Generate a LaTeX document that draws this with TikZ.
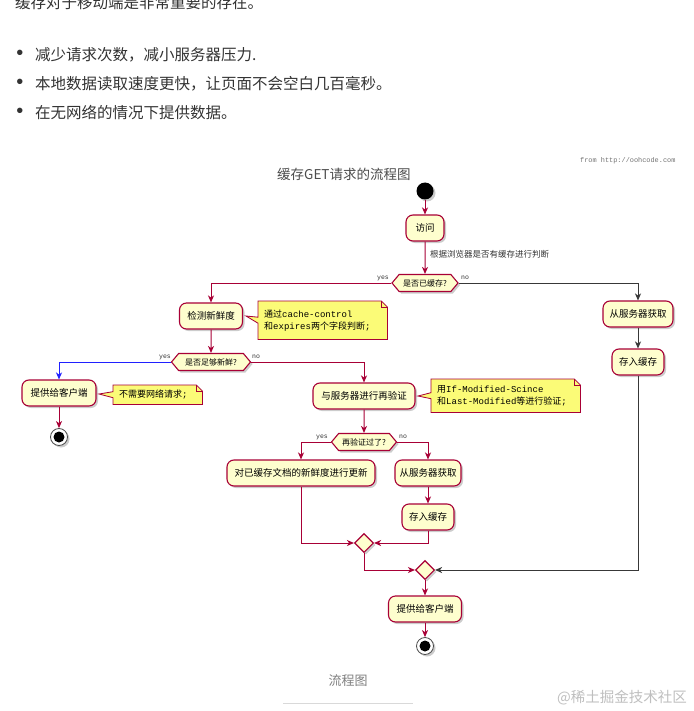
\documentclass[tikz,border=0pt]{standalone}
\usepackage{fontspec}
\setmainfont{Noto Sans CJK SC}
\setmonofont{Liberation Mono}
\newfontfamily\bulfont{Liberation Sans}
\usetikzlibrary{shapes.geometric,shapes.symbols,arrows.meta,shadows,calc}
\definecolor{umlred}{HTML}{A80036}
\definecolor{umlfill}{HTML}{FEFECE}
\definecolor{notefill}{HTML}{FBFB77}
\definecolor{darkline}{HTML}{383838}
\definecolor{bodytext}{HTML}{333333}
\definecolor{flowblue}{HTML}{2020FF}
\pgfdeclarelayer{bg}
\pgfdeclarelayer{paper}
\pgfsetlayers{paper,bg,main}
\newcommand{\umlnote}[2]{%
  \begin{pgfonlayer}{bg}
  \fill[black,opacity=0.18,xshift=2pt,yshift=-2pt]
    (#1.north west) -- ([xshift=-6pt]#1.north east) -- ([yshift=-6pt]#1.north east) -- (#1.south east) -- (#1.south west) -- ([yshift=-3pt]#1.west) -- (#2) -- ([yshift=3pt]#1.west) -- cycle;
  \filldraw[fill=notefill,draw=umlred,line width=0.8pt]
    (#1.north west) -- ([xshift=-6pt]#1.north east) -- ([yshift=-6pt]#1.north east) -- (#1.south east) -- (#1.south west) -- ([yshift=-3pt]#1.west) -- (#2) -- ([yshift=3pt]#1.west) -- cycle;
  \draw[umlred,line width=0.8pt] ([xshift=-6pt]#1.north east) -- ([xshift=-6pt,yshift=-6pt]#1.north east) -- ([yshift=-6pt]#1.north east);
  \end{pgfonlayer}%
}
\tikzset{
  umlshadow/.style={drop shadow={shadow xshift=2pt,shadow yshift=-2pt,opacity=0.2,fill=black}},
  act/.style={draw=umlred, line width=1.1pt, fill=umlfill, rounded corners=7pt,
    minimum height=26pt, inner xsep=4pt, inner ysep=0pt, text=black,
    font=\fontsize{9.5}{11}\selectfont, umlshadow},
  decision/.style={draw=umlred, line width=1.1pt, fill=umlfill, shape=signal,
    signal to=east and west, signal pointer angle=100, minimum height=17pt,
    inner xsep=1pt, inner ysep=0pt, text=black, font=\fontsize{8}{9}\selectfont, umlshadow},
  merge/.style={diamond, draw=umlred, line width=1.1pt, fill=umlfill, minimum size=19pt,
    inner sep=0pt, umlshadow},
  startc/.style={circle, fill=black, minimum size=17pt, inner sep=0pt, umlshadow},
  endc/.style={circle, fill=white, draw=black!70, line width=0.8pt, minimum size=17pt, inner sep=0pt, umlshadow},
  flow/.style={draw=umlred, line width=1pt, -{Stealth[length=7pt,width=6pt,inset=2pt]}},
  flowdark/.style={flow, draw=darkline, -{Stealth[length=7pt,width=6pt,inset=2pt]}},
  flowblue/.style={flow, draw=flowblue},
  notebody/.style={anchor=north west, inner xsep=6pt, inner ysep=3pt, align=left,
    font=\fontsize{9}{12}\selectfont, text=black},
  elabel/.style={font=\fontsize{6.5}{7}\ttfamily, text=black!80, inner sep=0pt},
  toptext/.style={anchor=west, inner sep=0pt, text=bodytext, font=\fontsize{15.5}{18}\selectfont},
  bul/.style={inner sep=0pt, text=bodytext, font=\bulfont\fontsize{20}{20}\selectfont}
}
\begin{document}
\begin{tikzpicture}[x=1pt,y=-1pt]
\useasboundingbox (0,0) rectangle (693,711);
\begin{pgfonlayer}{paper}
\fill[white] (0,0) rectangle (693,711);
\end{pgfonlayer}

% top text
\node[toptext] (l0) at (15,3) {缓存对于移动端是非常重要的存在。};
\node[bul] (b1) at (20,55) {•};
\node[toptext] (l1) at (35,55) {减少请求次数，减小服务器压力.};
\node[bul] (b2) at (20,84) {•};
\node[toptext] (l2) at (35,84) {本地数据读取速度更快，让页面不会空白几百毫秒。};
\node[bul] (b3) at (20,113) {•};
\node[toptext] (l3) at (35,113) {在无网络的情况下提供数据。};

% diagram header
\node[anchor=west, inner sep=0pt, text=black!55, font=\fontsize{6.9}{8}\ttfamily] (from) at (580,161) {from http://oohcode.com};
\node[anchor=west, inner sep=0pt, text=black!70, font=\fontsize{13.5}{15}\selectfont] (title) at (277,174) {缓存GET请求的流程图};

% nodes
\node[startc] (start) at (425,191) {};
\node[act, minimum width=38pt] (visit) at (425,228) {访问};
\node[decision, minimum width=66pt] (d1) at (425,283) {是否已缓存?};
\node[act, minimum width=63pt] (chk) at (211,316) {检测新鲜度};
\node[act, minimum width=70pt] (fetch1) at (638,314) {从服务器获取};
\node[act, minimum width=52pt] (store1) at (638,362) {存入缓存};
\node[decision, minimum width=79pt] (d2) at (211,362) {是否足够新鲜?};
\node[act, minimum width=74pt] (give1) at (59,393) {提供给客户端};
\node[endc] (end1) at (59,437) {};
\fill[black] (end1.center) circle (5.5pt);
\node[act, minimum width=102pt] (reval) at (364,396) {与服务器进行再验证};
\node[decision, minimum width=65pt] (d3) at (364,442) {再验证过了?};
\node[act, minimum width=148pt] (upd) at (301,473) {对已缓存文档的新鲜度进行更新};
\node[act, minimum width=66pt] (fetch2) at (428,473) {从服务器获取};
\node[act, minimum width=52pt] (store2) at (428,517) {存入缓存};
\node[merge] (m1) at (364,543) {};
\node[merge] (m2) at (425,570) {};
\node[act, minimum width=73pt] (give2) at (425,609) {提供给客户端};
\node[endc] (end2) at (425,646) {};
\fill[black] (end2.center) circle (5.5pt);

% notes
\node[notebody, text width=117pt, minimum height=38pt] (n1) at (258,301) {通过\texttt{cache-control}\\和\texttt{expires}两个字段判断\texttt{;}};
\coordinate (n1tip) at (246,316);
\umlnote{n1}{n1tip}
\node[notebody, text width=77pt, minimum height=19pt] (n2) at (113,385) {不需要网络请求\texttt{;}};
\coordinate (n2tip) at (99,394);
\umlnote{n2}{n2tip}
\node[notebody, text width=137pt, minimum height=33pt] (n3) at (431,379) {用\texttt{If-Modified-Scince}\\和\texttt{Last-Modified}等进行验证\texttt{;}};
\coordinate (n3tip) at (418,396);
\umlnote{n3}{n3tip}

% connectors
\draw[flow] (start) -- (visit);
\draw[flow] (visit) -- (d1);
\node[anchor=west, inner sep=0pt, text=black!80, font=\fontsize{8.5}{10}\selectfont] (lab0) at (430,254) {根据浏览器是否有缓存进行判断};
\draw[flow] (d1.west) -| (chk.north);
\draw[flowdark] (d1.east) -| (fetch1.north);
\draw[flowdark] (fetch1) -- (store1);
\draw[flowdark] (store1.south) |- (m2.east);
\draw[flow] (chk) -- (d2);
\draw[flowblue] (d2.west) -| (give1.north);
\draw[flow] (give1) -- (end1);
\draw[flow] (d2.east) -| (reval.north);
\draw[flow] (reval) -- (d3);
\draw[flow] (d3.west) -| (upd.north);
\draw[flow] (d3.east) -| (fetch2.north);
\draw[flow] (fetch2) -- (store2);
\draw[flow] (upd.south) |- (m1.west);
\draw[flow] (store2.south) |- (m1.east);
\draw[flow] (m1.south) |- (m2.west);
\draw[flow] (m2) -- (give2);
\draw[flow] (give2) -- (end2);

% edge labels
\node[elabel] (y1) at (383,278) {yes};
\node[elabel] (o1) at (465,278) {no};
\node[elabel] (y2) at (165,357) {yes};
\node[elabel] (o2) at (256,357) {no};
\node[elabel] (y3) at (322,437) {yes};
\node[elabel] (o3) at (403,437) {no};

% caption
\node[inner sep=0pt, text=black!50, font=\fontsize{13}{15}\selectfont] (cap) at (348,681) {流程图};
\draw[black!15, line width=0.8pt] (283,703) -- (413,703);
\node[inner sep=0pt, text=black!25, font=\fontsize{14.5}{16}\selectfont] (wm) at (622,698) {@稀土掘金技术社区};
\end{tikzpicture}
\end{document}
